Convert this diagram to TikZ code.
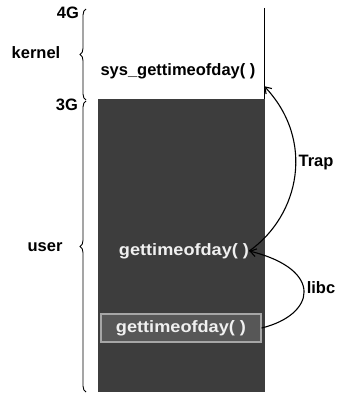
\documentclass[tikz,border=0pt]{standalone}
\usepackage{fontspec}
\setmainfont{Liberation Sans}
\usetikzlibrary{decorations.pathreplacing,arrows.meta}
\begin{document}
\begin{tikzpicture}[x=1pt,y=1pt,
  lbl/.style={font=\fontsize{16.5}{19}\selectfont\bfseries, inner sep=0pt},
  wlbl/.style={lbl, text=white!88!gray},
  brc/.style={decorate, decoration={brace, amplitude=6pt}, line width=0.9pt},
  arr/.style={line width=1.1pt, -{Straight Barb[length=6pt,width=8pt]}}]
\useasboundingbox (0,0) rectangle (338,-393);
\fill[white] (0,0) rectangle (338,-393);
% regions
\node[minimum width=166pt, minimum height=91pt, inner sep=0pt] (kbox) at (181,-53.5) {};
\node[minimum width=167pt, minimum height=293pt, inner sep=0pt, fill=black!76] (ubox) at (181.5,-245.5) {};
\draw[line width=1pt] (kbox.north east) -- (kbox.south east);
% texts
\node[lbl] (sys) at (178,-71) {sys\_gettimeofday( )};
\node[wlbl, xscale=1.1] (u1) at (184,-251) {gettimeofday( )};
\node[minimum width=160pt, minimum height=28pt, inner sep=0pt, draw=black!35, line width=1.2pt, fill=black!66] (u2) at (181,-328) {};
\node[wlbl, xscale=1.1] (u2t) at (u2) {gettimeofday( )};
% side labels
\node[lbl] (g4) at (68,-13) {4G};
\node[lbl] (kern) at (36,-53) {kernel};
\node[lbl] (g3) at (67,-105) {3G};
\node[lbl] (usr) at (45,-247) {user};
\node[lbl] (trap) at (316,-163) {Trap};
\node[lbl] (libc) at (321,-288) {libc};
% braces
\coordinate (k1) at (86,-100);
\coordinate (k2) at (86,-9);
\coordinate (us1) at (86,-392);
\coordinate (us2) at (86,-101);
\draw[brc] (k1) -- (k2);
\draw[brc] (us1) -- (us2);
% arrows
\draw[arr] (u1.east) .. controls (300,-215) and (315,-140) .. ([yshift=13pt]kbox.south east);
\draw[arr] (u2.east) .. controls (315,-315) and (325,-270) .. (u1.east);
\end{tikzpicture}
\end{document}
